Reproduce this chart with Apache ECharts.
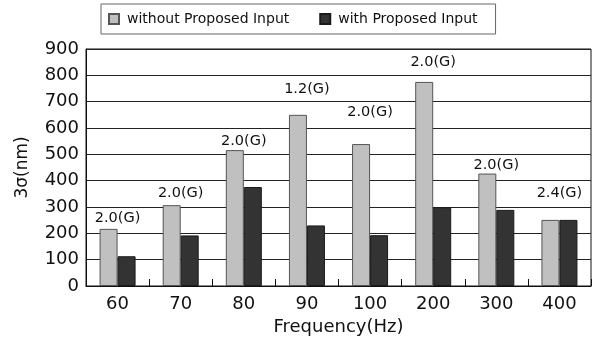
<!DOCTYPE html>
<html>
<head>
<meta charset="utf-8">
<script src="https://cdn.jsdelivr.net/npm/echarts@6/dist/echarts.min.js"></script>
<style>html,body{margin:0;padding:0;background:#fff;}#c{width:595px;height:347px;}</style>
</head>
<body>
<div id="c"></div>
<script>
const categories = ['60','70','80','90','100','200','300','400'];
const withoutInput = [217, 307, 516, 650, 539, 775, 427, 251];
const withInput = [113, 192, 376, 230, 193, 299, 289, 251];
const annotText = ['2.0(G)','2.0(G)','2.0(G)','1.2(G)','2.0(G)','2.0(G)','2.0(G)','2.4(G)'];
const annotY = [258, 354, 548, 749, 658, 848, 460, 354];
const yTicks = [0,100,200,300,400,500,600,700,800,900];

const FONT = 'DejaVu Sans';
const chart = echarts.init(document.getElementById('c'), null, {renderer:'canvas'});
chart.setOption({
  animation: false,
  backgroundColor: '#fff',
  textStyle: {fontFamily: FONT},
  legend: {
    data: ['without Proposed Input','with Proposed Input'],
    left: 101, top: 4,
    padding: [8, 18, 8, 7],
    borderColor: '#666', borderWidth: 1,
    itemWidth: 10, itemHeight: 10, itemGap: 30,
    icon: 'rect',
    textStyle: {fontFamily: FONT, fontSize: 14, color: '#111', padding: [0,0,0,3]}
  },
  grid: {left: 86, right: 4, top: 49, bottom: 61, show: true, borderColor: '#111', borderWidth: 1},
  xAxis: {
    type: 'category', data: categories,
    name: 'Frequency(Hz)', nameLocation: 'middle', nameGap: 28,
    nameTextStyle: {fontFamily: FONT, fontSize: 18, color: '#111'},
    axisLine: {lineStyle: {color: '#111', width: 1}},
    axisTick: {show: true, inside: true, length: 7, lineStyle: {color: '#111'}},
    axisLabel: {fontFamily: FONT, fontSize: 18, color: '#111', margin: 9},
    splitLine: {show: false}
  },
  yAxis: {
    type: 'value', min: yTicks[0], max: yTicks[yTicks.length-1], interval: 100,
    name: '3σ(nm)', nameLocation: 'middle', nameGap: 55,
    nameTextStyle: {fontFamily: FONT, fontSize: 17, color: '#111'},
    axisLine: {show: true, lineStyle: {color: '#111'}},
    axisTick: {show: false},
    axisLabel: {fontFamily: FONT, fontSize: 18, color: '#111', margin: 7},
    splitLine: {show: true, lineStyle: {color: '#222', width: 1}}
  },
  series: [
    {name: 'without Proposed Input', type: 'bar', data: withoutInput, barWidth: 18, barGap: '0%',
     itemStyle: {color: '#c0c0c0', borderColor: '#555', borderWidth: 1}},
    {name: 'with Proposed Input', type: 'bar', data: withInput, barWidth: 18,
     itemStyle: {color: '#333333', borderColor: '#1a1a1a', borderWidth: 1}},
    {name: 'annot', type: 'scatter', data: annotY, symbolSize: 0, silent: true,
     itemStyle: {opacity: 1},
     label: {show: true, position: 'inside', formatter: p => annotText[p.dataIndex],
       fontFamily: FONT, fontSize: 14.5, color: '#111', textBorderWidth: 0, opacity: 1}}
  ]
});
</script>
</body>
</html>
